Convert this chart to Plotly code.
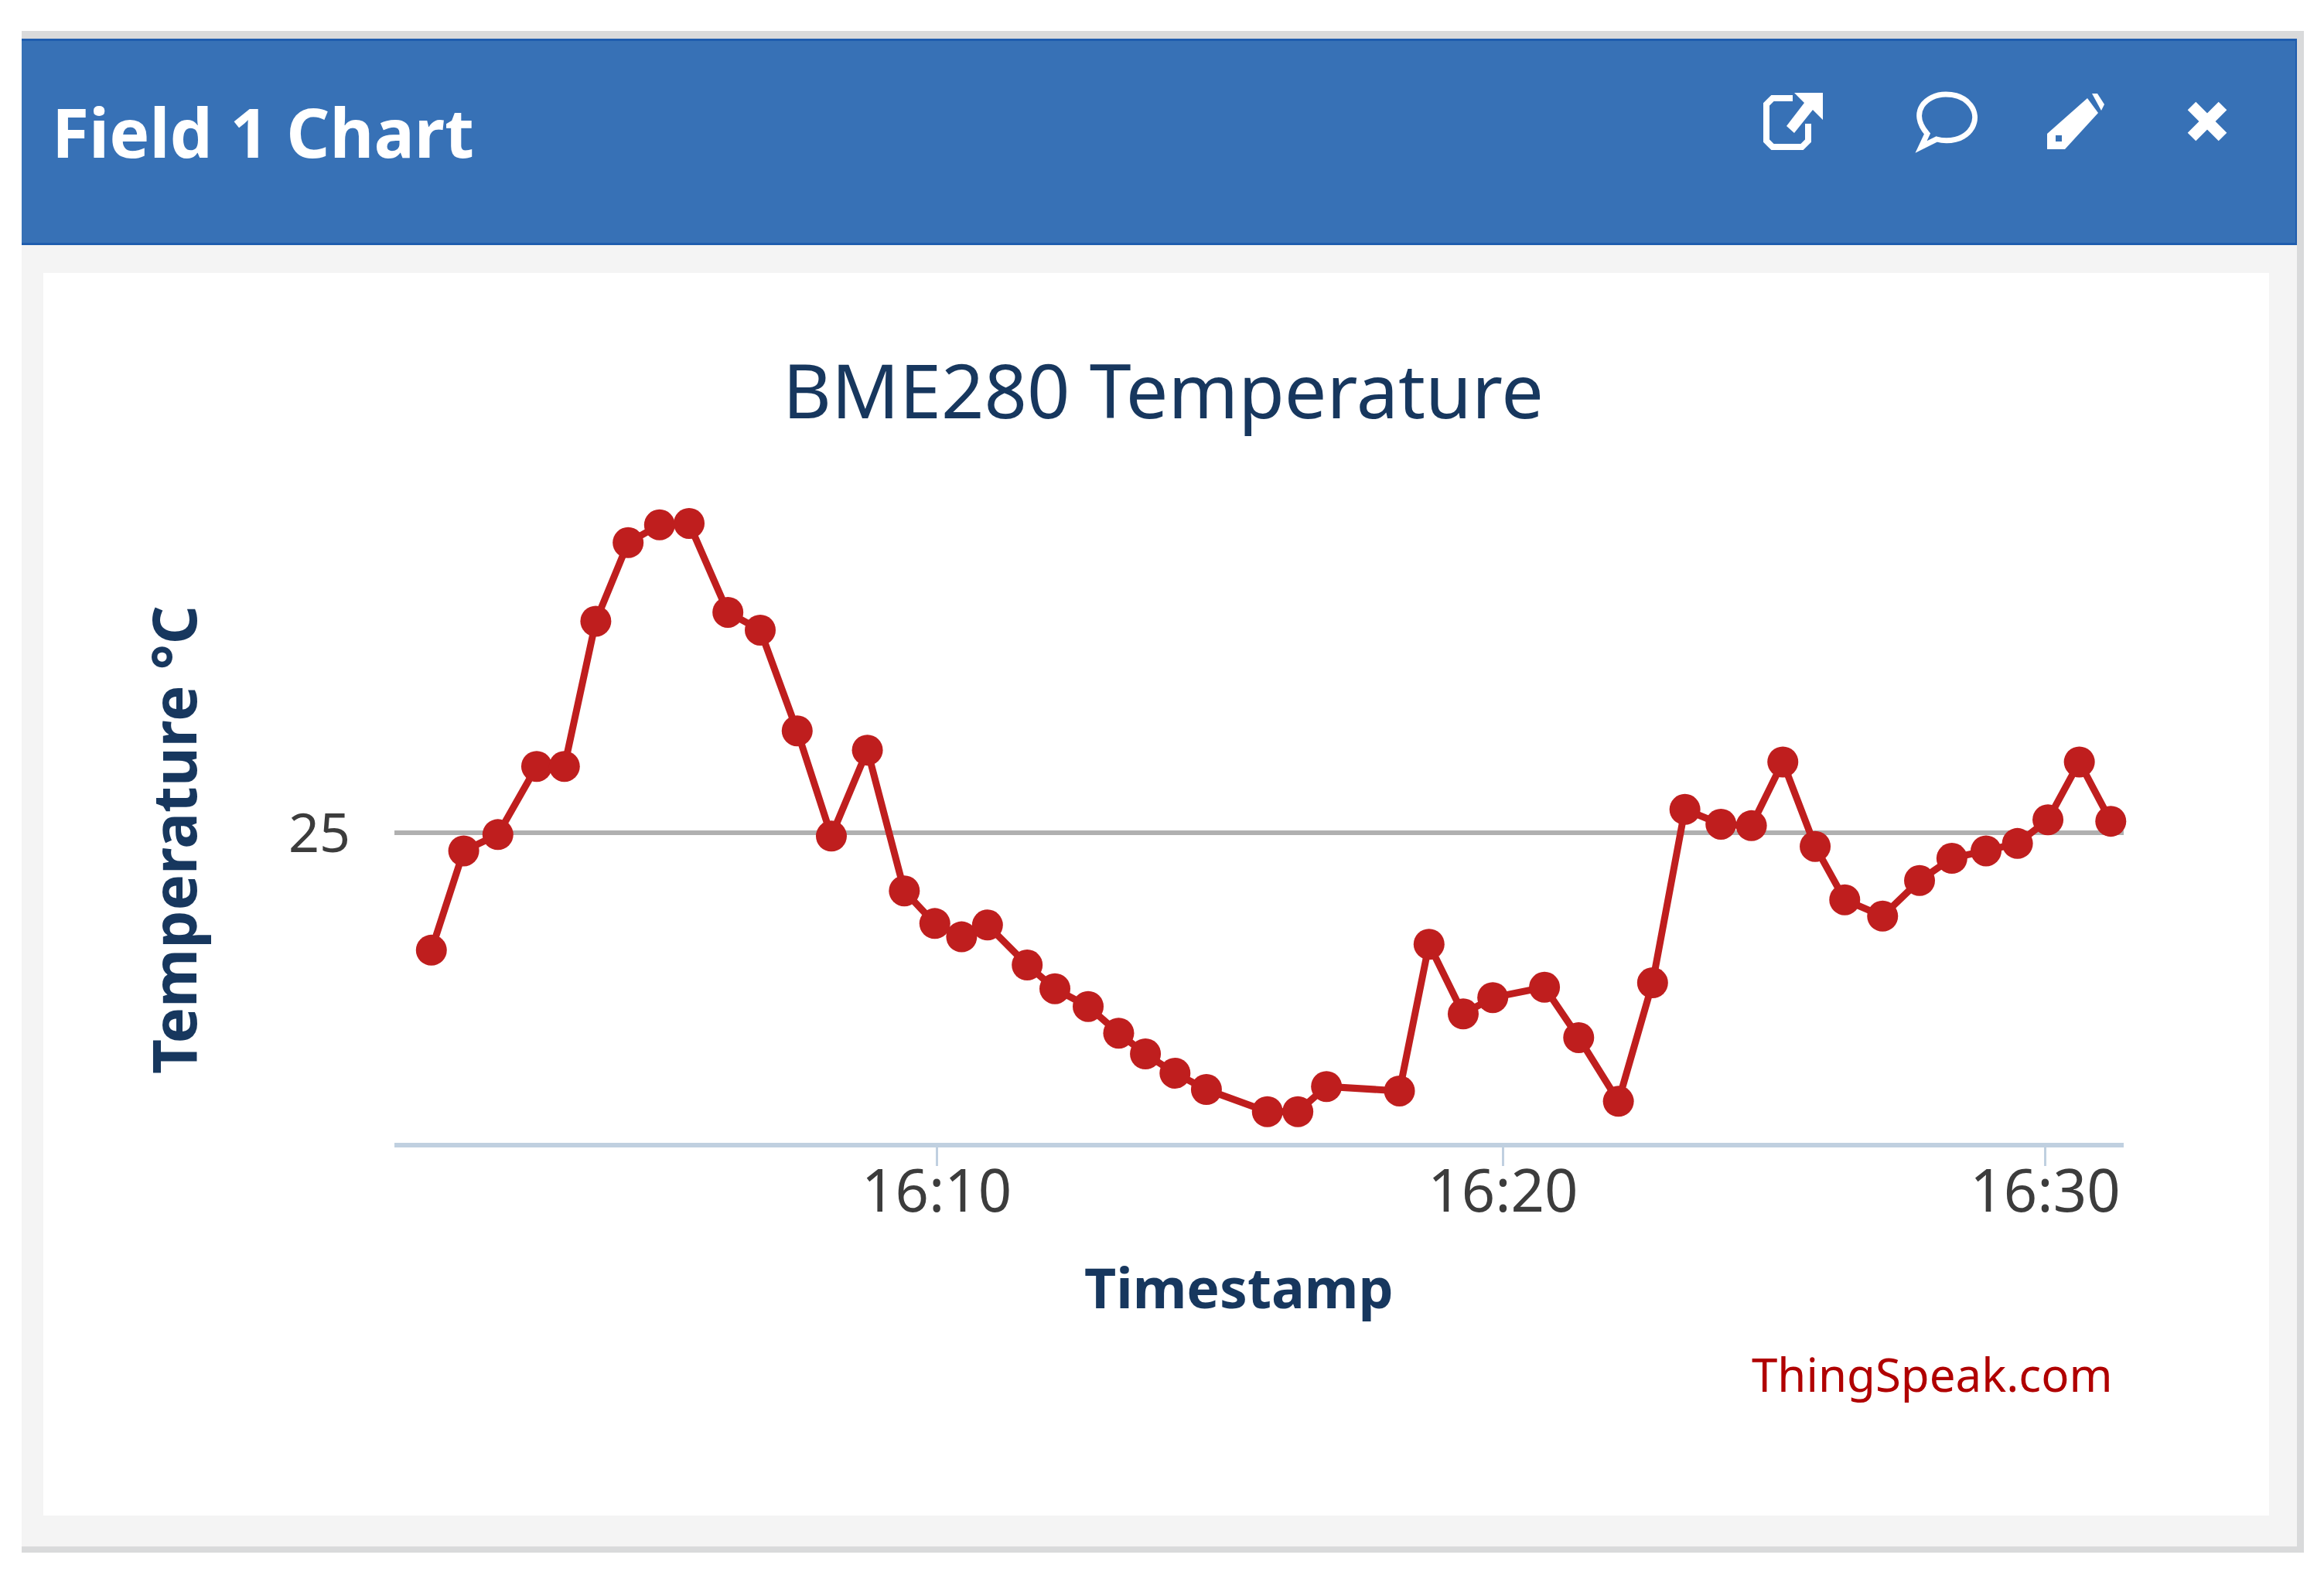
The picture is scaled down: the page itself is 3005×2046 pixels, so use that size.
import plotly.graph_objects as go

W, H = 3005, 2046

# Field 1 readings
times = ["16:00:53", "16:01:28", "16:02:05", "16:02:47", "16:03:17", "16:03:51", "16:04:26", "16:05:00", "16:05:32", "16:06:14",
         "16:06:49", "16:07:29", "16:08:06", "16:08:45", "16:09:25", "16:09:58", "16:10:27", "16:10:55", "16:11:38", "16:12:08",
         "16:12:44", "16:13:17", "16:13:46", "16:14:18", "16:14:52", "16:15:58", "16:16:31", "16:17:02", "16:18:21", "16:18:53",
         "16:19:30", "16:20:02", "16:20:58", "16:21:35", "16:22:18", "16:22:55", "16:23:30", "16:24:09", "16:24:42", "16:25:16",
         "16:25:51", "16:26:23", "16:27:04", "16:27:44", "16:28:19", "16:28:56", "16:29:30", "16:30:03", "16:30:37", "16:31:11"]
temps = [24.605, 24.94, 24.995, 25.225, 25.225, 25.715, 25.98, 26.04, 26.045, 25.745,
         25.685, 25.345, 24.99, 25.28, 24.805, 24.695, 24.65, 24.69, 24.555, 24.475,
         24.415, 24.325, 24.255, 24.19, 24.135, 24.06, 24.06, 24.145, 24.13, 24.625,
         24.39, 24.445, 24.48, 24.31, 24.095, 24.495, 25.08, 25.03, 25.025, 25.24,
         24.955, 24.775, 24.72, 24.84, 24.915, 24.94, 24.965, 25.045, 25.24, 25.04]

day = "2023-01-01 "
x_ticks = ["16:10:00", "16:20:13", "16:30:00"]
x_tick_labels = ["16:10", "16:20", "16:30"]
y_ticks = [25]


def fx(x):
    return x / W


def fy(y):
    return 1 - y / H


def rect(x0, y0, x1, y1, color):
    return dict(type="rect", xref="paper", yref="paper", x0=fx(x0), x1=fx(x1), y0=fy(y1), y1=fy(y0),
                fillcolor=color, line_width=0, layer="below")


def path(points, close=False, fill=None, line=None, width=0):
    d = "M " + " L ".join(f"{fx(a):.5f},{fy(b):.5f}" for a, b in points)
    if close:
        d += " Z"
    return dict(type="path", xref="paper", yref="paper", path=d, fillcolor=fill,
                line=dict(color=line, width=width))


shapes = [
    rect(28, 40, 2979, 2008, "#d9dadb"),
    rect(28, 50, 2970, 2000, "#f4f4f4"),
    rect(28, 50, 2970, 317, "#1f5dae"),
    rect(28, 53, 2968, 314, "#3771b6"),
    rect(56, 353, 2934, 1960, "#ffffff"),
]

# header icons: external link
shapes += [
    path([(2318, 127), (2292, 127), (2284, 135), (2284, 182), (2292, 190), (2330, 190), (2338, 182), (2338, 160)],
         line="white", width=8),
    path([(2320, 120), (2357, 120), (2357, 155), (2344, 142), (2320, 172), (2310, 163), (2333, 133)],
         close=True, fill="white"),
]
# speech bubble
shapes.append(dict(type="path", xref="paper", yref="paper", line=dict(color="white", width=7),
                   path=f"M {fx(2492):.5f},{fy(173):.5f} "
                        f"C {fx(2468):.5f},{fy(145):.5f} {fx(2490):.5f},{fy(122):.5f} {fx(2516):.5f},{fy(122):.5f} "
                        f"C {fx(2545):.5f},{fy(122):.5f} {fx(2561):.5f},{fy(145):.5f} {fx(2550):.5f},{fy(165):.5f} "
                        f"C {fx(2540):.5f},{fy(182):.5f} {fx(2518):.5f},{fy(184):.5f} {fx(2504):.5f},{fy(180):.5f} "
                        f"L {fx(2484):.5f},{fy(190):.5f} Z"))
# pencil
shapes += [
    path([(2647, 173), (2699, 127), (2713, 146), (2670, 193), (2647, 193)], close=True, fill="white"),
    path([(2705, 121), (2712, 121), (2721, 135), (2717, 143)], close=True, fill="white"),
    path([(2658, 175), (2666, 175), (2666, 183), (2658, 183)], close=True, fill="#3771b6"),
]
# close
shapes += [
    path([(2834, 137), (2874, 177)], line="white", width=15),
    path([(2874, 137), (2834, 177)], line="white", width=15),
]

fig = go.Figure()
fig.add_trace(
    go.Scatter(
        x=[day + t for t in times],
        y=temps,
        mode="lines+markers",
        line=dict(color="#bf1e1e", width=9),
        marker=dict(color="#bf1e1e", size=40),
        cliponaxis=False,
    )
)

annotations = [
    dict(text="<b>Field 1 Chart</b>", x=fx(65), y=fy(170), xanchor="left", yanchor="middle",
         font=dict(family="Noto Sans", size=87.5, color="white")),
    dict(text="BME280 Temperature", x=fx(1504), y=fy(503), xanchor="center", yanchor="middle",
         font=dict(family="Noto Sans", size=97, color="#17375e")),
    dict(text="<b>Timestamp</b>", x=fx(1602), y=fy(1664), xanchor="center", yanchor="middle",
         font=dict(family="Noto Sans", size=71.5, color="#17375e")),
    dict(text="<b>Temperature °C</b>", x=fx(224), y=fy(1086), xanchor="center", yanchor="middle", textangle=-90,
         font=dict(family="Noto Sans", size=78, color="#17375e")),
    dict(text="ThingSpeak.com", x=fx(2734), y=fy(1777), xanchor="right", yanchor="middle",
         font=dict(family="Noto Sans", size=60, color="#b00000")),
]
for a in annotations:
    a.update(xref="paper", yref="paper", showarrow=False)

fig.update_layout(
    width=W,
    height=H,
    margin=dict(l=0, r=0, t=0, b=0),
    paper_bgcolor="white",
    plot_bgcolor="rgba(0,0,0,0)",
    showlegend=False,
    shapes=shapes,
    annotations=annotations,
    xaxis=dict(
        domain=[fx(510), fx(2746)],
        type="date",
        range=[day + "16:00:13", day + "16:31:25"],
        tickvals=[day + t for t in x_ticks],
        ticktext=x_tick_labels,
        ticks="outside",
        ticklen=24,
        tickwidth=3,
        tickcolor="#c0d0e0",
        ticklabelstandoff=-32,
        showgrid=False,
        showline=True,
        linecolor="#c0d0e0",
        linewidth=6,
        zeroline=False,
        tickfont=dict(family="Noto Sans", size=76, color="#3c3c3c"),
    ),
    yaxis=dict(
        domain=[fy(1478), fy(652)],
        range=[23.955, 26.11],
        tickvals=y_ticks,
        ticks="",
        ticklabelstandoff=56,
        showgrid=True,
        gridcolor="#b0b0b0",
        gridwidth=6,
        showline=False,
        zeroline=False,
        tickfont=dict(family="Noto Sans", size=70, color="#3c3c3c"),
    ),
)

# no modebar, and drop the default page margin so the figure sits at 0,0
fig.write_html("out.html", config={"displayModeBar": False}, post_script="document.body.style.margin='0'")
